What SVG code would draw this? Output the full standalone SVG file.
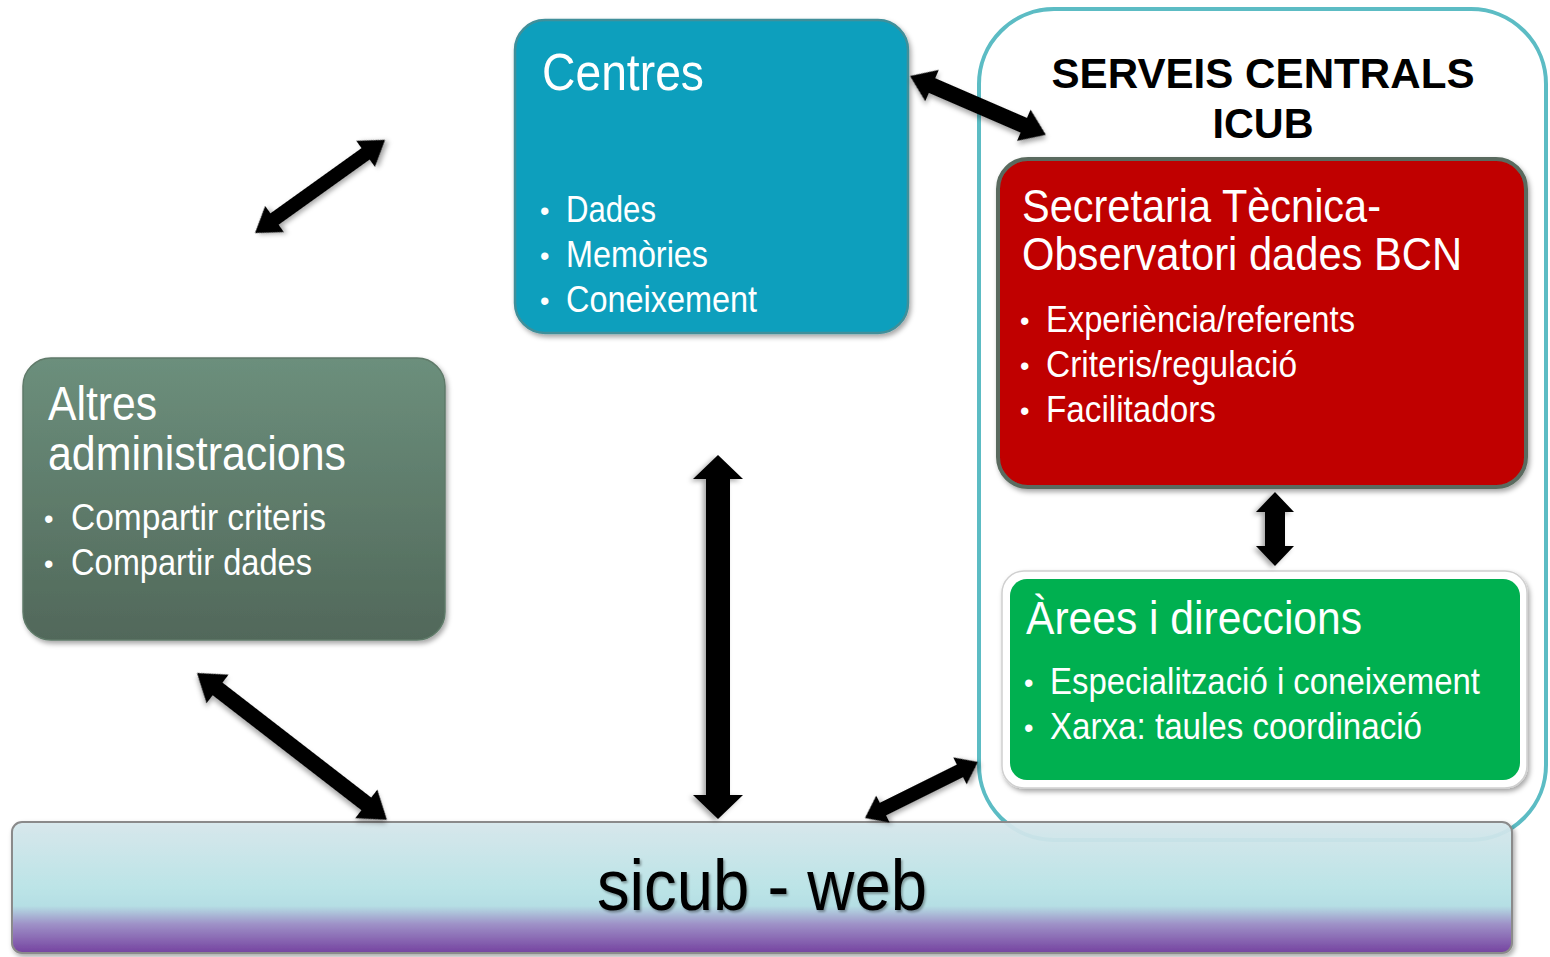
<svg xmlns="http://www.w3.org/2000/svg" width="1550" height="957" viewBox="0 0 1550 957">
<defs>
<style>
.t{font-family:"Liberation Sans Narrow","Liberation Sans",Arial,sans-serif;fill:#fff}
.b{font-family:"Liberation Sans",Arial,sans-serif;fill:#fff;font-size:27px}
.h{font-family:"Liberation Sans Narrow","Liberation Sans",Arial,sans-serif;font-weight:bold;fill:#000;text-anchor:middle}
.arrow{fill:#000;filter:url(#sh)}
</style>
<filter id="sh" x="-20%" y="-20%" width="140%" height="140%">
<feDropShadow dx="2" dy="3" stdDeviation="2.5" flood-color="#000" flood-opacity="0.35"/>
</filter>
<filter id="tsh" x="-10%" y="-10%" width="120%" height="130%">
<feDropShadow dx="1.5" dy="2" stdDeviation="1" flood-color="#000" flood-opacity="0.35"/>
</filter>
<linearGradient id="barG" x1="0" y1="0" x2="0" y2="1">
<stop offset="0" stop-color="#d7e8ed"/>
<stop offset="0.5" stop-color="#bae5e8"/>
<stop offset="0.64" stop-color="#b3dfe5"/>
<stop offset="0.78" stop-color="#9a8cc6"/>
<stop offset="1" stop-color="#6e389c"/>
</linearGradient>
<linearGradient id="altG" x1="0" y1="0" x2="0" y2="1">
<stop offset="0" stop-color="#6c8f7c"/>
<stop offset="1" stop-color="#51685a"/>
</linearGradient>
</defs>

<g id="serveis">
<rect x="979" y="9" width="567" height="831" rx="75" fill="#fff" stroke="#5cbcc4" stroke-width="4"/>
<text class="h" x="1263" y="88" font-size="42" textLength="423" lengthAdjust="spacingAndGlyphs">SERVEIS CENTRALS</text>
<text class="h" x="1263" y="138" font-size="42" textLength="101" lengthAdjust="spacingAndGlyphs">ICUB</text>
</g>

<g id="sicub">
<rect x="12" y="822" width="1500" height="131" rx="10" fill="url(#barG)" fill-opacity="0.92" stroke="#8a8a8a" stroke-width="2" filter="url(#sh)"/>
<text x="762" y="910" font-size="72" text-anchor="middle" fill="#000" filter="url(#tsh)" style="font-family:'Liberation Sans Narrow','Liberation Sans',Arial,sans-serif" textLength="330" lengthAdjust="spacingAndGlyphs">sicub - web</text>
</g>

<g id="centres">
<rect x="515" y="20" width="393" height="313" rx="30" fill="#0f9fbd" stroke="#3f8f9a" stroke-width="2.5" filter="url(#sh)"/>
<text class="t" x="542" y="90" font-size="52" textLength="162" lengthAdjust="spacingAndGlyphs">Centres</text>
<text class="b" x="540" y="220">•</text>
<text class="t" x="566" y="222" font-size="37" textLength="90" lengthAdjust="spacingAndGlyphs">Dades</text>
<text class="b" x="540" y="265">•</text>
<text class="t" x="566" y="267" font-size="37" textLength="142" lengthAdjust="spacingAndGlyphs">Memòries</text>
<text class="b" x="540" y="310">•</text>
<text class="t" x="566" y="312" font-size="37" textLength="191" lengthAdjust="spacingAndGlyphs">Coneixement</text>
</g>

<g id="altres">
<rect x="23" y="358" width="422" height="282" rx="28" fill="url(#altG)" stroke="#5f7a69" stroke-width="1.5" filter="url(#sh)"/>
<text class="t" x="48" y="420" font-size="48" textLength="109" lengthAdjust="spacingAndGlyphs">Altres</text>
<text class="t" x="48" y="470" font-size="48" textLength="298" lengthAdjust="spacingAndGlyphs">administracions</text>
<text class="b" x="44" y="528">•</text>
<text class="t" x="71" y="530" font-size="37" textLength="255" lengthAdjust="spacingAndGlyphs">Compartir criteris</text>
<text class="b" x="44" y="573">•</text>
<text class="t" x="71" y="575" font-size="37" textLength="241" lengthAdjust="spacingAndGlyphs">Compartir dades</text>
</g>

<g id="secretaria">
<rect x="998" y="159" width="528" height="328" rx="30" fill="#c00000" stroke="#5a6b5e" stroke-width="4" filter="url(#sh)"/>
<text class="t" x="1022" y="222" font-size="47" textLength="359" lengthAdjust="spacingAndGlyphs">Secretaria Tècnica-</text>
<text class="t" x="1022" y="270" font-size="47" textLength="440" lengthAdjust="spacingAndGlyphs">Observatori dades BCN</text>
<text class="b" x="1020" y="330">•</text>
<text class="t" x="1046" y="332" font-size="37" textLength="309" lengthAdjust="spacingAndGlyphs">Experiència/referents</text>
<text class="b" x="1020" y="375">•</text>
<text class="t" x="1046" y="377" font-size="37" textLength="251" lengthAdjust="spacingAndGlyphs">Criteris/regulació</text>
<text class="b" x="1020" y="420">•</text>
<text class="t" x="1046" y="422" font-size="37" textLength="170" lengthAdjust="spacingAndGlyphs">Facilitadors</text>
</g>

<g id="arees">
<rect x="1002" y="571" width="525" height="217" rx="22" fill="#fff" stroke="#d0d0d0" stroke-width="1.5" filter="url(#sh)"/>
<rect x="1010" y="579" width="510" height="201" rx="17" fill="#00b050"/>
<text class="t" x="1026" y="634" font-size="47" textLength="336" lengthAdjust="spacingAndGlyphs">Àrees i direccions</text>
<text class="b" x="1024" y="692">•</text>
<text class="t" x="1050" y="694" font-size="37" textLength="430" lengthAdjust="spacingAndGlyphs">Especialització i coneixement</text>
<text class="b" x="1024" y="737">•</text>
<text class="t" x="1050" y="739" font-size="37" textLength="372" lengthAdjust="spacingAndGlyphs">Xarxa: taules coordinació</text>
</g>

<g id="connectors">
<polygon class="arrow" transform="translate(255,233) rotate(-35.6)" points="0,0 24,-16 24,-7 136,-7 136,-16 160,0 136,16 136,7 24,7 24,16"/>
<polygon class="arrow" transform="translate(910,76) rotate(23.4)" points="0,0 24,-17 24,-8 124,-8 124,-17 148,0 124,17 124,8 24,8 24,17"/>
<polygon class="arrow" transform="translate(718,455) rotate(90)" points="0,0 24,-25 24,-12 340,-12 340,-25 364,0 340,25 340,12 24,12 24,25"/>
<polygon class="arrow" transform="translate(197,673) rotate(37.7)" points="0,0 26,-18 26,-8 214,-8 214,-18 240,0 214,18 214,8 26,8 26,18"/>
<polygon class="arrow" transform="translate(865,818) rotate(-26.4)" points="0,0 20,-15 20,-7 106,-7 106,-15 126,0 106,15 106,7 20,7 20,15"/>
<polygon class="arrow" transform="translate(1275,492) rotate(90)" points="0,0 20,-19 20,-10 54,-10 54,-19 74,0 54,19 54,10 20,10 20,19"/>
</g>
</svg>
